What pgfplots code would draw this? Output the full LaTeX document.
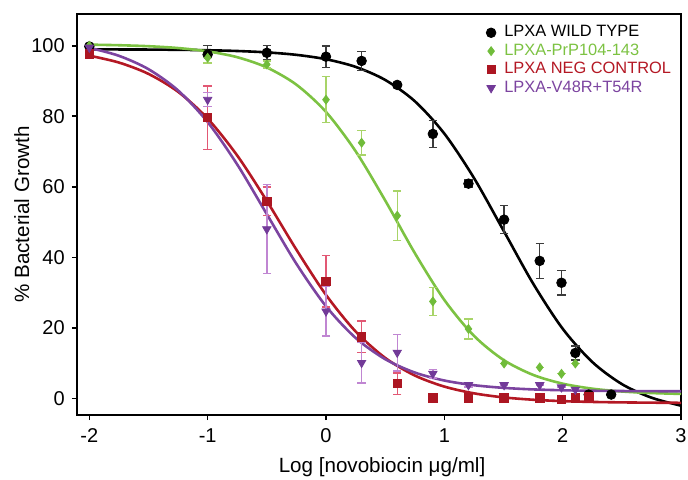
\documentclass[border=0pt]{standalone}
\usepackage{pgfplots}
\pgfplotsset{compat=1.18}
\usepackage{pgfplotstable}
\usepackage{fontspec}
\setmainfont{Liberation Sans}
\definecolor{cgreen}{RGB}{124,194,66}
\definecolor{cgreenm}{RGB}{112,188,58}
\definecolor{cgreene}{RGB}{168,212,104}
\definecolor{cred}{RGB}{180,24,36}
\definecolor{credm}{RGB}{172,22,34}
\definecolor{crede}{RGB}{226,88,116}
\definecolor{cpur}{RGB}{124,68,160}
\definecolor{cpurm}{RGB}{114,58,152}
\definecolor{cpure}{RGB}{192,134,210}
\definecolor{cblke}{RGB}{60,60,60}

% fitted curves
\pgfplotstableread{
x y
-2 98.97
-1.75 98.95
-1.5 98.92
-1.25 98.85
-1 98.73
-0.75 98.51
-0.5 98.12
-0.25 97.42
0 96.18
0.25 94.01
0.5 90.31
0.75 84.29
1 75.09
1.25 62.53
1.5 47.62
1.75 32.59
2 19.77
2.25 10.34
2.5 4.07
2.75 0.22
3 -2.05
}\fitwt
\pgfplotstableread{
x y
-2 100.31
-1.75 100.15
-1.5 99.87
-1.25 99.35
-1 98.41
-0.75 96.75
-0.5 93.84
-0.25 88.96
0 81.24
0.25 70.12
0.5 56.15
0.75 41.25
1 27.93
1.25 17.77
1.5 10.92
1.75 6.68
2 4.19
2.25 2.77
2.5 1.97
2.75 1.53
3 1.29
}\fitprp
\pgfplotstableread{
x y
-2 97.19
-1.75 95.24
-1.5 92.02
-1.25 86.95
-1 79.34
-0.75 68.87
-0.5 56.00
-0.25 42.18
0 29.36
0.25 19.00
0.5 11.50
0.75 6.51
1 3.36
1.25 1.45
1.5 0.30
1.75 -0.37
2 -0.76
2.25 -0.99
2.5 -1.12
2.75 -1.20
3 -1.24
}\fitneg
\pgfplotstableread{
x y
-2 99.42
-1.75 97.15
-1.5 93.36
-1.25 87.33
-1 78.36
-0.75 66.33
-0.5 52.25
-0.25 38.18
0 26.15
0.25 17.17
0.5 11.14
0.75 7.35
1 5.08
1.25 3.76
1.5 3.00
1.75 2.56
2 2.32
2.25 2.18
2.5 2.10
2.75 2.06
3 2.03
}\fitmut

% measured points: x y error
\pgfplotstableread{
x y e
-2 99.8 0
-1 97.5 2.5
-0.5 98.0 2.0
0 96.9 3.0
0.301 95.7 2.7
0.602 88.9 0.5
0.903 75.0 3.8
1.204 60.9 1.0
1.505 50.7 4.0
1.806 39.0 5.0
1.99 32.8 3.5
2.107 12.9 2.0
2.22 1.1 0
2.41 1.1 0
}\datwt
\pgfplotstableread{
x y e
-2 100.0 0
-1 96.6 1.5
-0.5 94.7 1.0
0 84.7 6.5
0.301 72.5 3.5
0.602 51.8 7.0
0.903 27.5 4.0
1.204 19.7 2.8
1.505 9.9 0
1.806 8.8 0
1.99 7.0 0
2.107 9.9 0
}\datprp
\pgfplotstableread{
x y e
-2 97.7 0
-1 79.6 9.0
-0.5 55.9 4.0
0 33.2 7.3
0.301 17.5 4.5
0.602 4.2 3.0
0.903 0.1 0
1.204 0.1 0
1.505 0.1 0
1.806 0.1 0
1.99 -0.3 0
2.107 0.1 0
2.22 0.5 0
}\datneg
\pgfplotstableread{
x y e
-2 99.5 0
-1 84.7 2.0
-0.5 48.0 12.6
0 24.7 7.0
0.301 10.1 5.7
0.602 13.0 5.2
0.903 7.0 1.2
1.204 3.8 0.6
1.505 3.8 0
1.806 3.8 0
1.99 3.2 0
2.107 2.5 0
}\datmut

\begin{document}
\begin{tikzpicture}
\begin{axis}[
  scale only axis,
  width=302pt, height=200.5pt,
  xmin=-2.104, xmax=3,
  ymin=-4.7, ymax=109,
  xtick={-2,-1,0,1,2,3},
  xticklabels={-2,-1,0,1,2,3},
  ytick={0,20,40,60,80,100},
  yticklabels={0,20,40,60,80,100},
  tick align=outside,
  major tick length=2.6pt,
  tick style={line width=0.8pt, black},
  axis line style={line width=1pt},
  ticklabel style={font=\fontsize{10}{12}\selectfont},
  xticklabel style={yshift=-0.8pt},
  xtick pos=bottom, ytick pos=left,
  xlabel={Log [novobiocin μg/ml]},
  ylabel={\% Bacterial Growth},
  label style={font=\fontsize{10.3}{12}\selectfont},
  xlabel style={at={(axis description cs:0.505,-0.131)}, anchor=center},
  ylabel style={at={(axis description cs:-0.0915,0.5)}, anchor=center},
  legend cell align=left,
  legend style={draw=none, fill=none, font=\fontsize{8.2}{9}\selectfont,
    at={(axis description cs:0.677,0.98)}, anchor=north west,
    row sep=-1.2pt, inner sep=0pt,
    nodes={inner sep=1.6pt},
    /tikz/every odd column/.append style={column sep=2.6pt}},
]
\coordinate (bl) at (rel axis cs:0,0);
\coordinate (tr) at (rel axis cs:1,1);

\addplot[forget plot, black, line width=1.3pt, smooth] table[x=x,y=y] {\fitwt};
\addplot[forget plot, cgreen, line width=1.3pt, smooth] table[x=x,y=y] {\fitprp};
\addplot[forget plot, cred, line width=1.3pt, smooth] table[x=x,y=y] {\fitneg};
\addplot[forget plot, cpur, line width=1.3pt, smooth] table[x=x,y=y] {\fitmut};

\addplot[only marks, mark=*, mark size=2.4pt, black,
  error bars/.cd, y dir=both, y explicit,
  error bar style={cblke, line width=0.7pt},
  error mark options={rotate=90, mark size=2.1pt, cblke, line width=0.7pt}]
  table[x=x,y=y,y error=e] {\datwt};
\addlegendentry{\textcolor{black}{LPXA WILD TYPE}}

\addplot[only marks, mark=diamond*, mark size=2.2pt, cgreenm,
  error bars/.cd, y dir=both, y explicit,
  error bar style={cgreene, line width=0.7pt},
  error mark options={rotate=90, mark size=2.1pt, cgreene, line width=0.7pt}]
  table[x=x,y=y,y error=e] {\datprp};
\addlegendentry{\textcolor{cgreen}{LPXA-PrP104-143}}

\addplot[only marks, mark=square*, mark size=2.1pt, credm,
  error bars/.cd, y dir=both, y explicit,
  error bar style={crede, line width=0.7pt},
  error mark options={rotate=90, mark size=2.1pt, crede, line width=0.7pt}]
  table[x=x,y=y,y error=e] {\datneg};
\addlegendentry{\textcolor{cred}{LPXA NEG CONTROL}}

\addplot[only marks, mark=triangle*, mark options={rotate=180}, mark size=2.4pt, cpurm,
  error bars/.cd, y dir=both, y explicit,
  error bar style={cpure, line width=0.7pt},
  error mark options={rotate=90, mark size=2.1pt, cpure, line width=0.7pt}]
  table[x=x,y=y,y error=e] {\datmut};
\addlegendentry{\textcolor{cpur}{LPXA-V48R+T54R}}
\end{axis}
\pgfresetboundingbox
\useasboundingbox ([xshift=-38.5pt,yshift=-32pt]bl) rectangle ([xshift=3.5pt,yshift=7pt]tr);
\end{tikzpicture}
\end{document}
